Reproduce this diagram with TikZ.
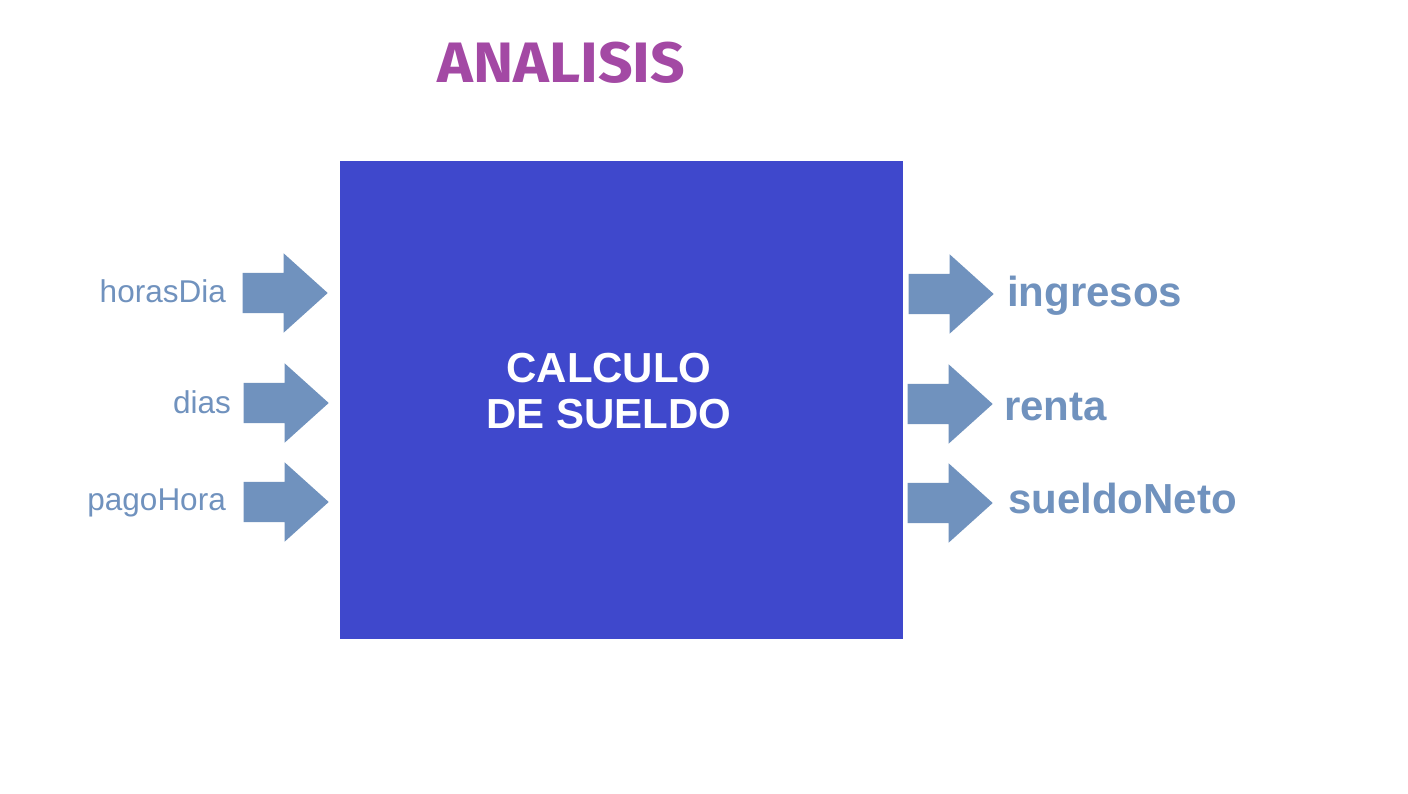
\documentclass[tikz,border=0pt]{standalone}
\usepackage{fontspec}
\setmainfont{Liberation Sans}
\newfontfamily\titlefont{Fira Sans}
\usetikzlibrary{shapes.arrows}
\definecolor{boxc}{RGB}{63,72,204}
\definecolor{arrc}{RGB}{112,146,190}
\definecolor{titc}{RGB}{163,73,164}
\tikzset{
  blockarrow/.style={single arrow, fill=arrc, draw=none, inner xsep=0pt, inner ysep=20pt,
    minimum height=85pt, minimum width=79pt, single arrow head extend=19.5pt,
    single arrow tip angle=84, single arrow head indent=0pt, anchor=tip},
  intext/.style={inner sep=0pt, text=arrc, font=\fontsize{31.5}{36}\selectfont, anchor=base east},
  outtext/.style={inner sep=0pt, text=arrc, font=\bfseries\fontsize{42}{48}\selectfont, anchor=base west},
}
\begin{document}
\begin{tikzpicture}[x=1pt,y=-1pt]
\useasboundingbox (0,0) rectangle (1408,794);
\fill[white] (0,0) rectangle (1408,794);
\node[inner sep=0pt, anchor=base west, text=titc, font=\titlefont\bfseries\fontsize{57}{60}\selectfont] (title) at (437,83) {\scalebox{1.065}[1]{ANALISIS}};
\node[fill=boxc, draw=none, minimum width=563pt, minimum height=478pt, inner sep=0pt] (box) at (621.5,400) {};
\node[inner sep=0pt, anchor=base, text=white, align=center, font=\bfseries\fontsize{42}{46}\selectfont] (lbl) at (609,428) {CALCULO\\DE SUELDO};
\node[blockarrow] (a1) at (328,293) {};
\node[blockarrow] (a2) at (329,403) {};
\node[blockarrow] (a3) at (329,502) {};
\node[blockarrow] (b1) at (994,294) {};
\node[blockarrow] (b2) at (993,404) {};
\node[blockarrow] (b3) at (993,503) {};
\node[intext] (t1) at (226,302) {horasDia};
\node[intext] (t2) at (231,413) {dias};
\node[intext] (t3) at (226,510) {pagoHora};
\node[outtext] (o1) at (1007,306) {ingresos};
\node[outtext] (o2) at (1004,420) {renta};
\node[outtext] (o3) at (1008,513) {sueldoNeto};
\end{tikzpicture}
\end{document}
